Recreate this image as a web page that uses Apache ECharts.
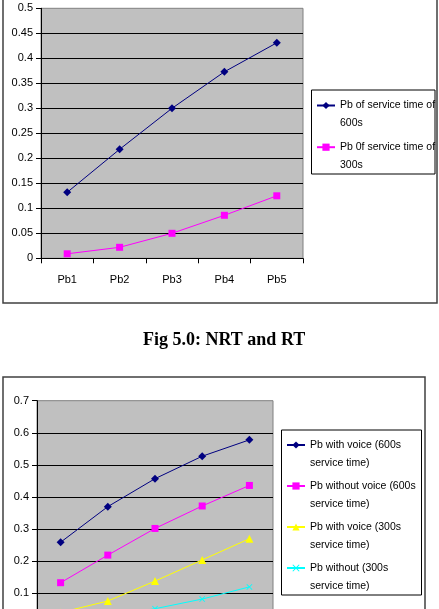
<!DOCTYPE html>
<html>
<head>
<meta charset="utf-8">
<script src="https://cdn.jsdelivr.net/npm/echarts@6/dist/echarts.min.js"></script>
<style>
  html, body { margin: 0; padding: 0; background: #fff; }
  #main { width: 439px; height: 609px; }
</style>
</head>
<body>
<div id="main"></div>
<script>
// values
var categories = ['Pb1', 'Pb2', 'Pb3', 'Pb4', 'Pb5'];

// top chart
var namesTop = ['Pb of service time of\n600s', 'Pb 0f service time of\n300s'];
var pb600 = [0.132, 0.218, 0.300, 0.373, 0.431];
var pb300 = [0.009, 0.022, 0.050, 0.086, 0.125];

// bottom chart
var namesBottom = ['Pb with voice (600s\nservice time)', 'Pb without voice (600s\nservice time)',
                   'Pb with voice (300s\nservice time)', 'Pb without (300s\nservice time)'];
var withVoice600 = [0.259, 0.370, 0.457, 0.527, 0.578];
var withoutVoice600 = [0.133, 0.219, 0.302, 0.372, 0.436];
var withVoice300 = [0.040, 0.076, 0.138, 0.204, 0.270];
var without300 = [0.012, 0.028, 0.052, 0.082, 0.120];

var caption = 'Fig 5.0: NRT and RT';

var SANS = '"Liberation Sans", Arial, sans-serif';
var crossPath = 'path://M0,1L1,0L5,4L9,0L10,1L6,5L10,9L9,10L5,6L1,10L0,9L4,5Z';

function xAxisFor(gridIndex) {
  return {
    type: 'category',
    gridIndex: gridIndex,
    data: categories,
    boundaryGap: true,
    axisLine: { lineStyle: { color: '#000', width: 1 } },
    axisTick: { show: true, length: 5, lineStyle: { color: '#000' } },
    axisLabel: { margin: 16, color: '#000', fontSize: 11, fontFamily: SANS },
    splitLine: { show: false }
  };
}
function yAxisFor(gridIndex, max, interval) {
  return {
    type: 'value',
    gridIndex: gridIndex,
    min: 0,
    max: max,
    interval: interval,
    axisLine: { show: true, lineStyle: { color: '#000', width: 1 } },
    axisTick: { show: true, length: 5, lineStyle: { color: '#000' } },
    axisLabel: { margin: 8, color: '#000', fontSize: 11, fontFamily: SANS },
    splitLine: { show: true, showMaxLine: false, lineStyle: { color: '#000', width: 1 } }
  };
}
function lineSeries(name, data, color, symbol, size, axisIndex) {
  return {
    name: name,
    type: 'line',
    xAxisIndex: axisIndex,
    yAxisIndex: axisIndex,
    data: data,
    symbol: symbol,
    symbolSize: size,
    showAllSymbol: true,
    color: color,
    lineStyle: { color: color, width: 1 },
    itemStyle: { color: color }
  };
}
// empty first line so the key sits beside the first text line
var legendText = { color: '#000', fontSize: 10.5, fontFamily: SANS, lineHeight: 18 };
function legendLabel(name) { return '\n' + name; }

var chart = echarts.init(document.getElementById('main'), null, { renderer: 'canvas' });
chart.setOption({
  backgroundColor: '#fff',
  animation: false,
  grid: [
    { left: 41, top: 8.3, width: 262, height: 250, show: true, outerBoundsMode: 'none',
      backgroundColor: '#C0C0C0', borderColor: '#808080', borderWidth: 1 },
    { left: 37, top: 400.7, width: 236, height: 224.7, show: true, outerBoundsMode: 'none',
      backgroundColor: '#C0C0C0', borderColor: '#808080', borderWidth: 1 }
  ],
  xAxis: [xAxisFor(0), xAxisFor(1)],
  yAxis: [yAxisFor(0, 0.5, 0.05), yAxisFor(1, 0.7, 0.1)],
  legend: [
    { data: namesTop, orient: 'vertical', left: 316, top: 78.5, padding: 0,
      itemGap: -12.3, itemWidth: 18, itemHeight: 9, textStyle: legendText,
      formatter: legendLabel, selectedMode: false },
    { data: namesBottom, orient: 'vertical', left: 286, top: 418, padding: 0,
      itemGap: -13, itemWidth: 18, itemHeight: 9, textStyle: legendText,
      formatter: legendLabel, selectedMode: false }
  ],
  graphic: [
    { type: 'rect', shape: { x: 3, y: -5, width: 434, height: 308 },
      style: { fill: 'none', stroke: '#404040', lineWidth: 1.5 }, silent: true },
    { type: 'rect', shape: { x: 3, y: 377, width: 422, height: 260 },
      style: { fill: 'none', stroke: '#404040', lineWidth: 1.5 }, silent: true },
    { type: 'rect', shape: { x: 311.5, y: 90, width: 123.5, height: 84 },
      style: { fill: 'none', stroke: '#000', lineWidth: 1 }, silent: true },
    { type: 'rect', shape: { x: 281.5, y: 430, width: 140, height: 165 },
      style: { fill: 'none', stroke: '#000', lineWidth: 1 }, silent: true },
    { type: 'text', left: 143, top: 331, style: {
        text: caption, fill: '#000', font: 'bold 18px "Liberation Serif", "Times New Roman", serif' } }
  ],
  series: [
    lineSeries(namesTop[0], pb600, '#000080', 'diamond', 8, 0),
    lineSeries(namesTop[1], pb300, '#FF00FF', 'rect', 7, 0),
    lineSeries(namesBottom[0], withVoice600, '#000080', 'diamond', 8, 1),
    lineSeries(namesBottom[1], withoutVoice600, '#FF00FF', 'rect', 7, 1),
    lineSeries(namesBottom[2], withVoice300, '#FFFF00', 'triangle', 8, 1),
    lineSeries(namesBottom[3], without300, '#00FFFF', crossPath, 6, 1)
  ]
});
</script>
</body>
</html>
